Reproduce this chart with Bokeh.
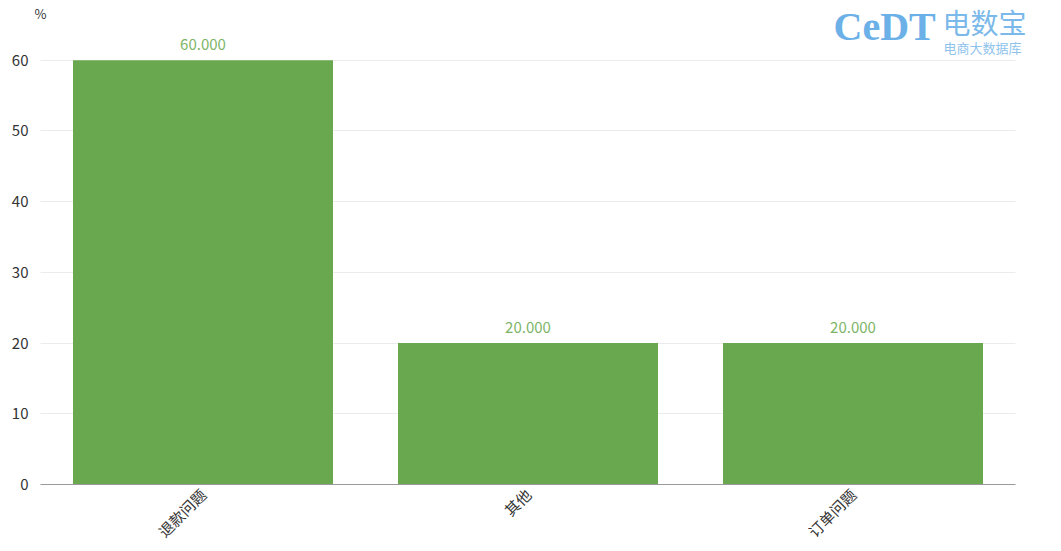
from math import pi
from bokeh.plotting import figure
from bokeh.models import ColumnDataSource, Range1d, FixedTicker, Label
from bokeh.core.properties import value
from bokeh.embed import file_html
from bokeh.resources import INLINE

categories = ["退款问题", "其他", "订单问题"]
values = [60, 20, 20]
labels = ["60.000", "20.000", "20.000"]
y_ticks = [0, 10, 20, 30, 40, 50, 60]

W, H = 1061, 551
# layout (pixels)
frame_left, band_left, band_right, zero_px, top60_px = 34, 40, 1015, 486, 60
n = len(categories)
band = (band_right - band_left) / n
x_start = -0.5 - (band_left - frame_left) / band
x_end = n - 0.5 + (W - band_right) / band
px_per_unit_y = (zero_px - top60_px) / 60
y_end = zero_px / px_per_unit_y

pos = list(range(n))
src = ColumnDataSource(dict(x=pos, val=values, lab=labels))

p = figure(width=W, height=H, x_range=Range1d(x_start, x_end), y_range=Range1d(0, y_end),
           output_backend="svg", toolbar_location=None,
           min_border_left=frame_left, min_border_right=0,
           min_border_top=0, min_border_bottom=H - zero_px)
p.outline_line_color = None
p.background_fill_color = "white"
p.border_fill_color = "white"

p.vbar(x="x", top="val", width=0.8, source=src, color="#69a84e", line_color=None)
p.text(x="x", y="val", text="lab", source=src, text_align="center", text_baseline="bottom",
       y_offset=-10, text_color="#7db567", text_font_size="15px",
       text_font=value("Noto Sans CJK SC"))

p.xgrid.grid_line_color = None
p.ygrid.grid_line_color = "#ececec"
p.ygrid.cross_bounds = (-0.5, n - 0.5)
p.yaxis.ticker = FixedTicker(ticks=y_ticks)
p.yaxis.axis_line_color = None
p.yaxis.major_tick_line_color = None
p.yaxis.minor_tick_line_color = None
p.yaxis.major_label_text_font_size = "15px"
p.yaxis.major_label_text_color = "#333333"
p.yaxis.major_label_text_font = "Noto Sans CJK SC"
p.yaxis.major_label_standoff = 0

p.xaxis.ticker = FixedTicker(ticks=pos)
p.xaxis.major_label_overrides = {i: c for i, c in zip(pos, categories)}
p.xaxis.bounds = (-0.5, n - 0.5)
p.xaxis.axis_line_color = "#999999"
p.xaxis.major_tick_line_color = None
p.xaxis.minor_tick_line_color = None
p.xaxis.major_label_orientation = pi / 4
p.xaxis.major_label_text_font_size = "15px"
p.xaxis.major_label_text_line_height = 0.9
p.xaxis.major_label_text_color = "#333333"
p.xaxis.major_label_text_font = "Noto Sans CJK SC"
p.xaxis.major_label_standoff = 1

# annotation screen coords: x from frame left, y up from frame bottom
p.add_layout(Label(x=34 - frame_left, y=zero_px - 24, x_units="screen", y_units="screen", text="%",
                   text_font_size="13px", text_color="#333333", text_font="Noto Sans CJK SC"))
# logo watermark
p.add_layout(Label(x=833 - frame_left, y=zero_px - 50, x_units="screen", y_units="screen", text="CeDT",
                   text_font_size="40px", text_color="#6cb0e8", text_font="Liberation Serif",
                   text_font_style="bold"))
p.add_layout(Label(x=942 - frame_left, y=zero_px - 43, x_units="screen", y_units="screen", text="电数宝",
                   text_font_size="28px", text_color="#7bb9ea", text_font="Noto Sans CJK SC"))
p.add_layout(Label(x=943 - frame_left, y=zero_px - 58, x_units="screen", y_units="screen", text="电商大数据库",
                   text_font_size="13px", text_color="#8fc3ec", text_font="Noto Sans CJK SC"))

open("out.html", "w").write(file_html(p, INLINE))
